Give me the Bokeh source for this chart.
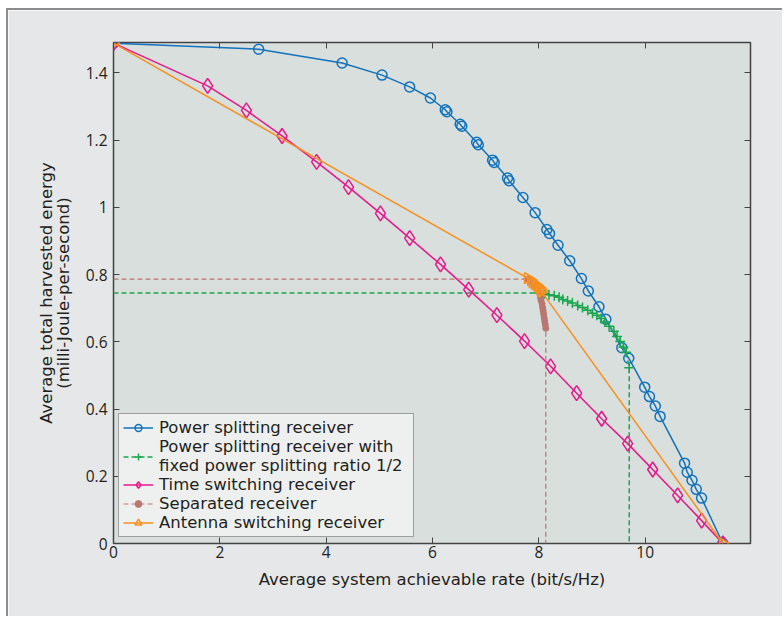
import numpy as np
from bokeh.plotting import figure
from bokeh.models import LinearAxis, Range1d, Legend, LegendItem, FixedTicker
from bokeh.embed import file_html
from bokeh.resources import INLINE

# ---------------- data ----------------
# Power splitting receiver
ps_x = [0.0, 2.73, 4.30, 5.05, 5.57, 5.96, 6.24, 6.27, 6.52, 6.55, 6.83, 6.86, 7.13, 7.16,
        7.41, 7.44, 7.70, 7.93, 8.15, 8.20, 8.36, 8.58, 8.80, 8.93, 9.13, 9.26, 9.56, 9.69,
        9.99, 10.08, 10.19, 10.28, 10.74, 10.79, 10.88, 10.96, 11.06, 11.46]
ps_y = [1.488, 1.470, 1.429, 1.393, 1.358, 1.325, 1.290, 1.284, 1.247, 1.241, 1.193, 1.186,
        1.140, 1.133, 1.087, 1.079, 1.029, 0.984, 0.934, 0.922, 0.887, 0.841, 0.788, 0.751,
        0.704, 0.667, 0.582, 0.551, 0.465, 0.437, 0.409, 0.378, 0.239, 0.212, 0.188, 0.161,
        0.135, 0.0]

# Power splitting receiver with fixed power splitting ratio 1/2
fps_x = [0.0, 8.00, 8.10, 8.19, 8.29, 8.38, 8.45, 8.54, 8.63, 8.73, 8.82, 8.92, 9.01, 9.09,
         9.17, 9.24, 9.32, 9.41, 9.47, 9.53, 9.59, 9.64, 9.70, 9.70]
fps_y = [0.745, 0.745, 0.743, 0.740, 0.737, 0.732, 0.726, 0.721, 0.715, 0.708, 0.702, 0.694,
         0.685, 0.679, 0.669, 0.659, 0.646, 0.631, 0.616, 0.601, 0.584, 0.569, 0.523, 0.0]
fps_mark = list(range(1, 23))

# Time switching receiver
ts_x = [0.0, 1.77, 2.50, 3.17, 3.82, 4.42, 5.02, 5.57, 6.15, 6.68, 7.21, 7.73, 8.22,
        8.71, 9.18, 9.67, 10.14, 10.61, 11.06, 11.46]
ts_y = [1.488, 1.361, 1.288, 1.212, 1.135, 1.060, 0.982, 0.908, 0.830, 0.755, 0.679,
        0.602, 0.527, 0.447, 0.371, 0.297, 0.220, 0.143, 0.068, 0.0]

# Separated receiver
sep_x = [0.0, 7.79, 7.83, 7.87, 7.90, 7.92, 7.95, 7.98, 8.00, 8.02, 8.03, 8.04, 8.06, 8.07,
         8.08, 8.09, 8.10, 8.11, 8.12, 8.13, 8.13]
sep_y = [0.786, 0.786, 0.782, 0.777, 0.772, 0.768, 0.762, 0.756, 0.749, 0.741, 0.732, 0.723,
         0.713, 0.702, 0.692, 0.682, 0.671, 0.661, 0.651, 0.640, 0.0]
sep_mark = list(range(1, 20))

# Antenna switching receiver
as_x = [0.0, 7.79, 7.85, 7.88, 7.92, 7.96, 7.99, 8.02, 8.04, 8.05, 11.46]
as_y = [1.488, 0.789, 0.783, 0.777, 0.772, 0.768, 0.763, 0.759, 0.753, 0.749, 0.0]

x_ticks = [0, 2, 4, 6, 8, 10]
y_ticks = [0, 0.2, 0.4, 0.6, 0.8, 1.0, 1.2, 1.4]
y_tick_labels = ["0", "0.2", "0.4", "0.6", "0.8", "1", "1.2", "1.4"]

labels = ["Power splitting receiver",
          "Power splitting receiver with\nfixed power splitting ratio 1/2",
          "Time switching receiver",
          "Separated receiver",
          "Antenna switching receiver"]

BLUE = "#1272bd"
GREEN = "#1aa64e"
MAGENTA = "#e8178a"
BROWN = "#b97772"
ORANGE = "#f7901e"
TXT = "#231f20"
TICK_FONT = "Open Sans"
FONT = "DejaVu Sans"
FS = "16.5px"

# ---------------- figure ----------------
p = figure(width=776, height=608, output_backend="svg", toolbar_location=None,
           x_range=Range1d(0, 11.98), y_range=Range1d(0, 1.49),
           min_border_left=105, min_border_right=34, min_border_top=32, min_border_bottom=75)
p.styles = {"margin-left": "6px", "margin-top": "8px",
            "border-left": "2px solid #8c8c8c", "border-top": "2px solid #8c8c8c"}
p.background_fill_color = "#d9dfdc"
p.border_fill_color = "#e6e7e8"
p.outline_line_color = "#444444"
p.outline_line_width = 1.5
p.grid.visible = False

for ax in [p.xaxis[0], p.yaxis[0]]:
    ax.axis_line_color = None
    ax.major_tick_in = 6
    ax.major_tick_out = 0
    ax.minor_tick_line_color = None
    ax.major_tick_line_color = "#444444"
    ax.major_label_text_font = TICK_FONT
    ax.major_label_text_font_size = "15.5px"
    ax.major_label_text_color = TXT
    ax.axis_label_text_font = FONT
    ax.axis_label_text_font_size = FS
    ax.axis_label_text_color = TXT
    ax.axis_label_text_font_style = "normal"
    ax.axis_label_text_line_height = 0.9

p.xaxis.ticker = FixedTicker(ticks=x_ticks)
p.yaxis.ticker = FixedTicker(ticks=y_ticks)
p.yaxis.major_label_overrides = {t: l for t, l in zip(y_ticks, y_tick_labels)}
p.xaxis.axis_label = "Average system achievable rate (bit/s/Hz)"
p.yaxis.axis_label = "Average total harvested energy\n(milli-Joule-per-second)"
p.xaxis.major_label_standoff = 2
p.yaxis.major_label_standoff = 6
p.xaxis.axis_label_standoff = 9
p.yaxis.axis_label_standoff = 10

for place in ["above", "right"]:
    ax = LinearAxis(ticker=FixedTicker(ticks=x_ticks if place == "above" else y_ticks))
    ax.axis_line_color = None
    ax.major_tick_in = 6
    ax.major_tick_out = 0
    ax.minor_tick_line_color = None
    ax.major_tick_line_color = "#444444"
    ax.major_label_text_color = None
    ax.major_label_text_font_size = "1px"
    ax.major_label_standoff = 0
    p.add_layout(ax, place)

# series
r_ps_l = p.line(ps_x, ps_y, line_color=BLUE, line_width=1.5)
r_ps_m = p.scatter(ps_x, ps_y, marker="circle", size=10, fill_color=None,
                   line_color=BLUE, line_width=1.5)

r_fps_l = p.line(fps_x, fps_y, line_color=GREEN, line_width=1.5, line_dash="5 3")
r_fps_m = p.scatter([fps_x[i] for i in fps_mark], [fps_y[i] for i in fps_mark],
                    marker="cross", size=10, line_color=GREEN, line_width=1.5)

r_ts_l = p.line(ts_x, ts_y, line_color=MAGENTA, line_width=1.5)
r_ts_m = p.scatter(ts_x, ts_y, marker="diamond", size=15, fill_color=None,
                   line_color=MAGENTA, line_width=1.5)

r_sep_l = p.line(sep_x, sep_y, line_color=BROWN, line_width=1.2, line_dash="5 3")
r_sep_m = p.scatter([sep_x[i] for i in sep_mark], [sep_y[i] for i in sep_mark],
                    marker="circle", size=6, fill_color=BROWN, line_color=BROWN)

r_as_l = p.line(as_x, as_y, line_color=ORANGE, line_width=1.5)
r_as_m = p.scatter(as_x, as_y, marker="triangle", size=11, angle=-np.pi / 2,
                   fill_color=None, line_color=ORANGE, line_width=1.5)

items = [LegendItem(label=labels[0], renderers=[r_ps_l, r_ps_m]),
         LegendItem(label=labels[1], renderers=[r_fps_l, r_fps_m]),
         LegendItem(label=labels[2], renderers=[r_ts_l, r_ts_m]),
         LegendItem(label=labels[3], renderers=[r_sep_l, r_sep_m]),
         LegendItem(label=labels[4], renderers=[r_as_l, r_as_m])]
legend = Legend(items=items, location=(5, 6))
legend.margin = 0
legend.padding = 4
legend.spacing = 0
legend.glyph_width = 30
legend.glyph_height = 17
legend.label_height = 17
legend.label_width = 250
legend.label_standoff = 6
legend.label_text_font = FONT
legend.label_text_font_size = FS
legend.label_text_line_height = 1.0
legend.label_text_color = TXT
legend.background_fill_color = "#eef0ef"
legend.background_fill_alpha = 1
legend.border_line_color = "#4d4d4d"
legend.border_line_width = 1
p.add_layout(legend)

open("out.html", "w").write(file_html(p, INLINE))
